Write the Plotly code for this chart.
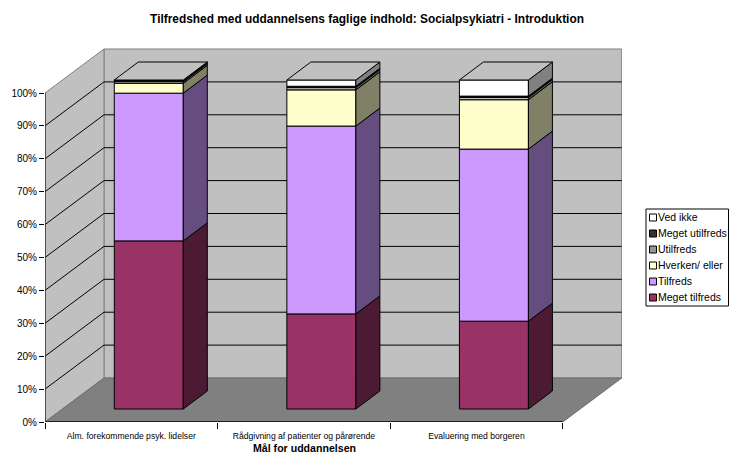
import plotly.graph_objects as go

categories = ["Alm. forekommende psyk. lidelser", "Rådgivning af patienter og pårørende", "Evaluering med borgeren"]
series_names = ["Meget tilfreds", "Tilfreds", "Hverken/ eller", "Utilfreds", "Meget utilfreds", "Ved ikke"]
meget_tilfreds = [51.1, 28.9, 26.7]
tilfreds = [44.9, 57.1, 52.3]
hverken = [3.0, 11.0, 15.0]
utilfreds = [0.5, 0.7, 0.7]
meget_utilfreds = [0.5, 0.4, 0.4]
ved_ikke = [0.0, 1.9, 4.9]
series_values = [meget_tilfreds, tilfreds, hverken, utilfreds, meget_utilfreds, ved_ikke]
front_colors = ["#993366", "#CC99FF", "#FFFFCC", "#C0C0C0", "#333333", "#FFFFFF"]
side_colors = ["#4D1A33", "#664D80", "#808066", "#606060", "#1A1A1A", "#808080"]
legend_colors = ["#993366", "#CC99FF", "#FFFFCC", "#969696", "#333333", "#FFFFFF"]
y_ticks = [0, 10, 20, 30, 40, 50, 60, 70, 80, 90, 100]

FONT = "Liberation Sans, Arial, sans-serif"
W, H = 729, 455
L, R, T, B = 45, 622, 48, 422          # plot area in pixels
PX_PER_CAT = 172.57
PX_PER_PCT = 3.29
X_MAX = (R - L) / PX_PER_CAT
Y_MAX = (B - T) / PX_PER_PCT
DX, DY = 59 / PX_PER_CAT, 44 / PX_PER_PCT   # depth of the chart box
BAR_W = 69 / PX_PER_CAT
BAR_DX, BAR_DY = 24 / PX_PER_CAT, 18 / PX_PER_PCT
OFF_X, OFF_Y = (DX - BAR_DX) / 2, (DY - BAR_DY) / 2


def poly(xs, ys, fill, line="#808080", width=1):
    path = "M " + " L ".join(f"{x},{y}" for x, y in zip(xs, ys)) + " Z"
    return dict(type="path", path=path, xref="x", yref="y", fillcolor=fill,
                line=dict(color=line, width=width), layer="below")


def seg(x0, y0, x1, y1, color="#000000", width=1):
    return dict(type="line", xref="x", yref="y", x0=x0, y0=y0, x1=x1, y1=y1,
                line=dict(color=color, width=width), layer="below")


shapes = [
    poly([DX, 3 + DX, 3 + DX, DX], [DY, DY, 100 + DY, 100 + DY], "#C0C0C0"),
    poly([0, DX, DX, 0], [0, DY, 100 + DY, 100], "#C0C0C0"),
    poly([0, 3, 3 + DX, DX], [0, 0, DY, DY], "#808080", line="#6E6E6E"),
]
for t in y_ticks[1:-1]:
    shapes.append(seg(0, t, DX, t + DY))
    shapes.append(seg(DX, t + DY, 3 + DX, t + DY))
shapes.append(seg(0, 0, 3, 0, width=1.5))
shapes.append(seg(0, 0, 0, 100, color="#333333", width=1.5))

fig = go.Figure()
centers = [i + 0.5 + OFF_X for i in range(3)]
bases = [[0.0] * 3]
for vals in series_values:
    bases.append([b + v for b, v in zip(bases[-1], vals)])

for k, vals in enumerate(series_values):
    fig.add_trace(go.Bar(
        x=centers, y=vals, base=[b + OFF_Y for b in bases[k]], width=BAR_W,
        name=series_names[k], marker=dict(color=front_colors[k], line=dict(color="#000000", width=1)),
        showlegend=False, hoverinfo="skip"))

for k, vals in enumerate(series_values):
    xs, ys = [], []
    for c, b, v in zip(centers, bases[k], vals):
        xr = c + BAR_W / 2
        b0 = b + OFF_Y
        xs += [xr, xr + BAR_DX, xr + BAR_DX, xr, xr, None]
        ys += [b0, b0 + BAR_DY, b0 + v + BAR_DY, b0 + v, b0, None]
    fig.add_trace(go.Scatter(x=xs, y=ys, mode="lines", fill="toself", fillcolor=side_colors[k],
                             line=dict(color="#000000", width=1), showlegend=False, hoverinfo="skip"))

xs, ys = [], []
for c, top in zip(centers, bases[-1]):
    xl, xr = c - BAR_W / 2, c + BAR_W / 2
    t = top + OFF_Y
    xs += [xl, xr, xr + BAR_DX, xl + BAR_DX, xl, None]
    ys += [t, t, t + BAR_DY, t + BAR_DY, t, None]
fig.add_trace(go.Scatter(x=xs, y=ys, mode="lines", fill="toself", fillcolor="#C0C0C0",
                         line=dict(color="#000000", width=1), showlegend=False, hoverinfo="skip"))


def px(x):
    return (x - L) / (R - L)


def py(y):
    return (B - y) / (B - T)


# legend, top entry first
annotations = []
lx0, lx1, ly0, ly1 = 646, 729, 209, 306
shapes.append(dict(type="rect", xref="paper", yref="paper", x0=px(lx0), x1=px(lx1 - 0.5), y0=py(ly0), y1=py(ly1),
                   fillcolor="#FFFFFF", line=dict(color="#000000", width=1), layer="above"))
for row, k in enumerate(reversed(range(6))):
    cy = 217.5 + row * 16
    shapes.append(dict(type="rect", xref="paper", yref="paper", x0=px(649.5), x1=px(656.5),
                       y0=py(cy - 3.5), y1=py(cy + 3.5), fillcolor=legend_colors[k],
                       line=dict(color="#000000", width=1), layer="above"))
    annotations.append(dict(text=series_names[k], xref="paper", yref="paper", x=px(655.5), y=py(cy - 1),
                            xanchor="left", yanchor="middle", showarrow=False,
                            font=dict(family=FONT, size=10.5, color="#000000")))

annotations.append(dict(text="<b>Mål for uddannelsen</b>", xref="paper", yref="paper", x=px(304), y=py(448),
                        xanchor="center", yanchor="middle", showarrow=False,
                        font=dict(family=FONT, size=10.6, color="#000000")))

fig.update_layout(
    width=W, height=H, autosize=False, barmode="overlay", showlegend=False,
    paper_bgcolor="#FFFFFF", plot_bgcolor="#FFFFFF",
    margin=dict(l=L, r=W - R, t=T, b=H - B, pad=0),
    title=dict(text="<b>Tilfredshed med uddannelsens faglige indhold: Socialpsykiatri - Introduktion</b>",
               x=367 / W, y=1 - 19 / H, xanchor="center", yanchor="middle", xref="container", yref="container",
               font=dict(family=FONT, size=11.9, color="#000000")),
    xaxis=dict(range=[0, X_MAX], showgrid=False, zeroline=False, showline=False,
               tickmode="array", tickvals=[0.5, 1.5, 2.5], ticktext=categories,
               ticks="outside", ticklen=6, tickcolor="rgba(0,0,0,0)", tickangle=0,
               tickfont=dict(family=FONT, size=8.6, color="#000000"),
               minor=dict(tickmode="array", tickvals=[0, 1, 2, 3], ticks="outside", ticklen=6,
                          tickcolor="#000000", tickwidth=1, showgrid=False)),
    yaxis=dict(range=[0, Y_MAX], showgrid=False, zeroline=False, showline=False,
               tickmode="array", tickvals=y_ticks, ticktext=[f"{t}%" for t in y_ticks],
               ticks="outside", ticklen=5, tickcolor="#000000", tickwidth=1,
               tickfont=dict(family=FONT, size=10, color="#000000")),
    shapes=shapes, annotations=annotations,
)
fig.write_html("out.html", config={"displayModeBar": False},
               post_script="document.body.style.margin='0';document.body.style.overflow='hidden';")
